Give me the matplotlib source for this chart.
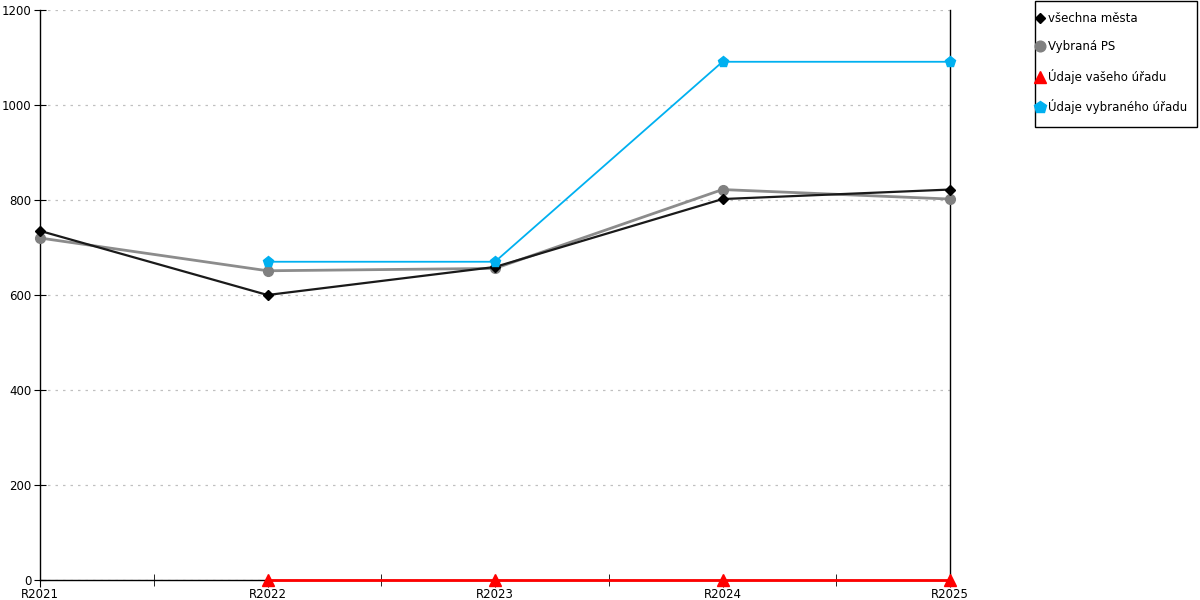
import matplotlib
matplotlib.use("Agg")
import matplotlib.pyplot as plt
from matplotlib.ticker import MultipleLocator, FixedLocator
from matplotlib.lines import Line2D
from matplotlib.patches import Rectangle

plt.rcParams['font.family'] = ['DejaVu Sans']

years = ["R2021", "R2022", "R2023", "R2024", "R2025"]
vsechna = [735, 600, 659, 802, 822]
vybrana_ps = [720, 651, 656, 822, 802]
vaseho = [None, 0, 0, 0, 0]
vybraneho = [None, 670, 670, 1091, 1091]

fig = plt.figure(figsize=(12, 6), dpi=100)
ax = fig.add_axes([40/1200, 20/600, 910/1200, 570/600])

x = list(range(len(years)))

def pts(vals):
    xs = [i for i, v in zip(x, vals) if v is not None]
    ys = [v for v in vals if v is not None]
    return xs, ys

# series: (label, values, line colour, marker colour, marker, size, linewidth)
series = [
    ("Vybraná PS", vybrana_ps, "#8c8c8c", "#808080", "o", 7, 2),
    ("všechna města", vsechna, "#1a1a1a", "black", "D", 5, 1.6),
    ("Údaje vybraného úřadu", vybraneho, "#00b0f0", "#00b0f0", "p", 8, 1.3),
    ("Údaje vašeho úřadu", vaseho, "red", "red", "^", 8, 2),
]
for z, (lab, vals, lc, mc, mk, ms, lw) in enumerate(series):
    xs, ys = pts(vals)
    ax.plot(xs, ys, color=lc, lw=lw, marker=mk, ms=ms, mfc=mc, mec=mc, label=lab,
            zorder=3 + z, clip_on=False)

ax.set_xlim(0, 4)
ax.set_ylim(0, 1200)
ax.yaxis.set_major_locator(MultipleLocator(200))
ax.grid(axis="y", color="#c0c0c0", ls=(0, (2, 4)), lw=0.9)
ax.set_axisbelow(True)

ax.set_xticks(x)
ax.set_xticklabels(years, fontsize=8.5)
ax.xaxis.set_minor_locator(FixedLocator([0.5, 1.5, 2.5, 3.5]))
ax.tick_params(axis="x", which="major", length=5, direction="out", pad=1)
ax.tick_params(axis="x", which="minor", length=8, direction="inout")
ax.tick_params(axis="y", length=8, direction="inout", labelsize=8.5, pad=2)

ax.spines["top"].set_visible(False)
for s in ["left", "right", "bottom"]:
    ax.spines[s].set_color("black")
    ax.spines[s].set_linewidth(1)

# legend with markers only, frame drawn separately (box is wider vertically than horizontally)
order = ["všechna města", "Vybraná PS", "Údaje vašeho úřadu", "Údaje vybraného úřadu"]
info = {s[0]: s for s in series}
leg_handles = [Line2D([], [], ls="none", marker=info[l][4], ms=info[l][5] * 1.1,
                      mfc=info[l][3], mec=info[l][3]) for l in order]
leg = fig.legend(leg_handles, order, loc="upper left", bbox_to_anchor=(1036/1200, 1 - 12/600),
                 fontsize=8.5, frameon=False, handlelength=0.7, handletextpad=0.3,
                 labelspacing=1.3, borderpad=0, borderaxespad=0)
fig.patches.append(Rectangle((1035/1200, 1 - 127/600), 162/1200, 126/600,
                             transform=fig.transFigure, fill=False, edgecolor="black", lw=1))

fig.savefig("out.png", dpi=100)
